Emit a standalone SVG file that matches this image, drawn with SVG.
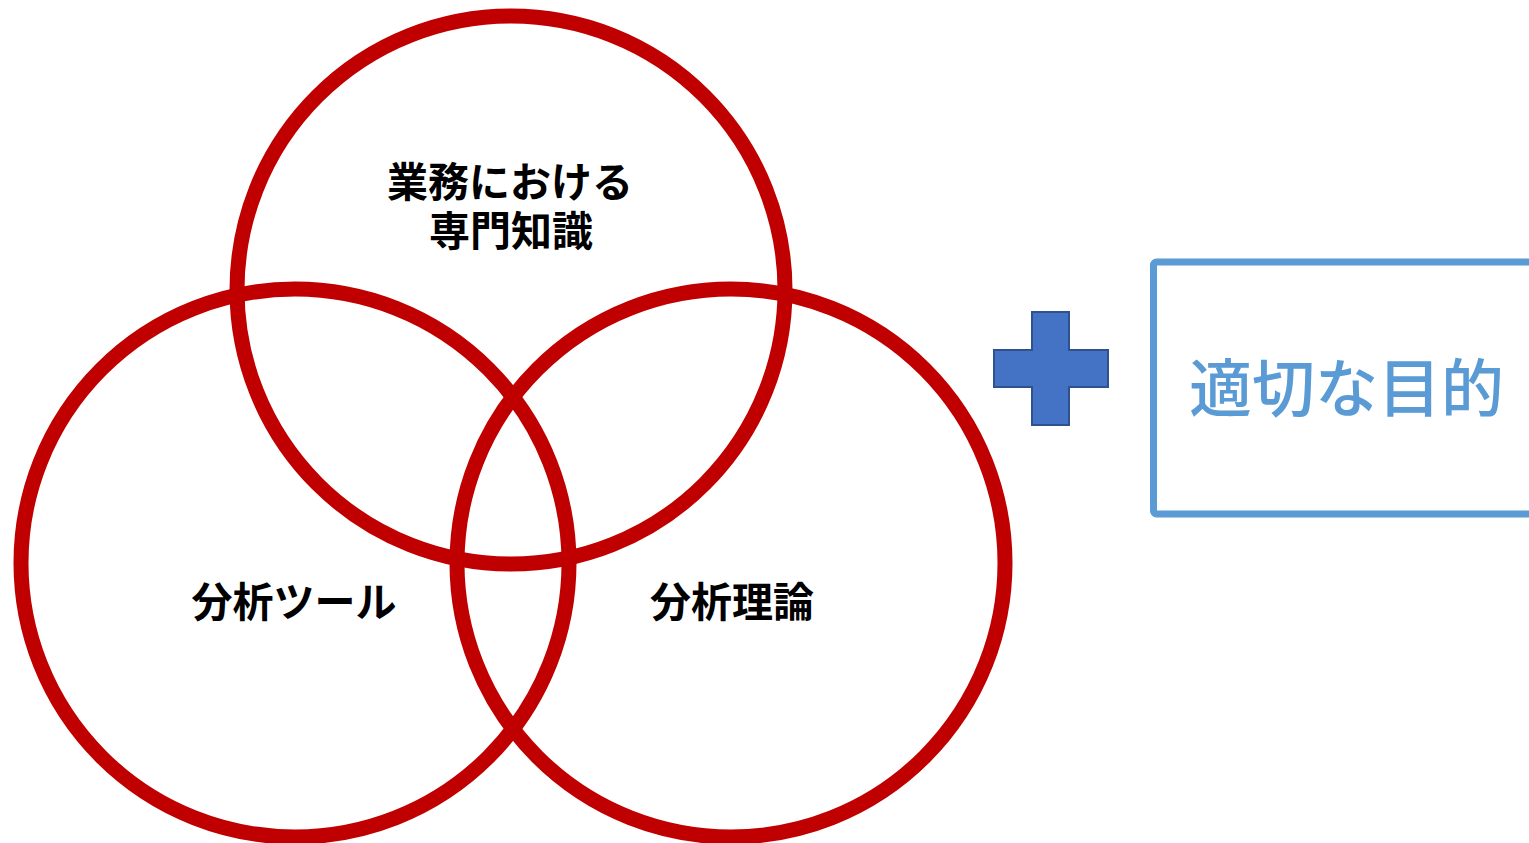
<svg xmlns="http://www.w3.org/2000/svg" width="1529" height="843" viewBox="0 0 1529 843">
<style>
.ring{fill:none;stroke:#C00000;stroke-width:15}
.lbl{font-family:"Noto Sans CJK JP","Noto Sans CJK SC",sans-serif;font-weight:bold;font-size:41px;fill:#000;text-anchor:middle;dominant-baseline:central}
.goal{font-family:"Noto Sans CJK JP","Noto Sans CJK SC",sans-serif;font-weight:500;font-size:63px;fill:#5B9BD5;text-anchor:start;dominant-baseline:central}
</style>
<rect width="1529" height="843" fill="#fff"/>
<g id="node-top">
<circle class="ring" cx="511" cy="290" r="274"/>
<text class="lbl" x="510" y="179"><tspan x="510" y="179">業務における</tspan><tspan x="511" y="228">専門知識</tspan></text>
</g>
<g id="node-left">
<circle class="ring" cx="295" cy="563" r="274"/>
<text class="lbl" x="294" y="599">分析ツール</text>
</g>
<g id="node-right">
<circle class="ring" cx="731" cy="563" r="274"/>
<text class="lbl" x="732" y="599">分析理論</text>
</g>
<g id="node-plus">
<path d="M1032,312 H1069 V350 H1108 V387 H1069 V425 H1032 V387 H994 V350 H1032 Z" fill="#4472C4" stroke="#2F528F" stroke-width="2"/>
</g>
<g id="node-goal">
<rect x="1153.5" y="262" width="400" height="252" rx="3" fill="#fff" stroke="#5B9BD5" stroke-width="7"/>
<text class="goal" x="1189" y="383">適切な目的</text>
</g>
<g id="connectors"></g>
</svg>
